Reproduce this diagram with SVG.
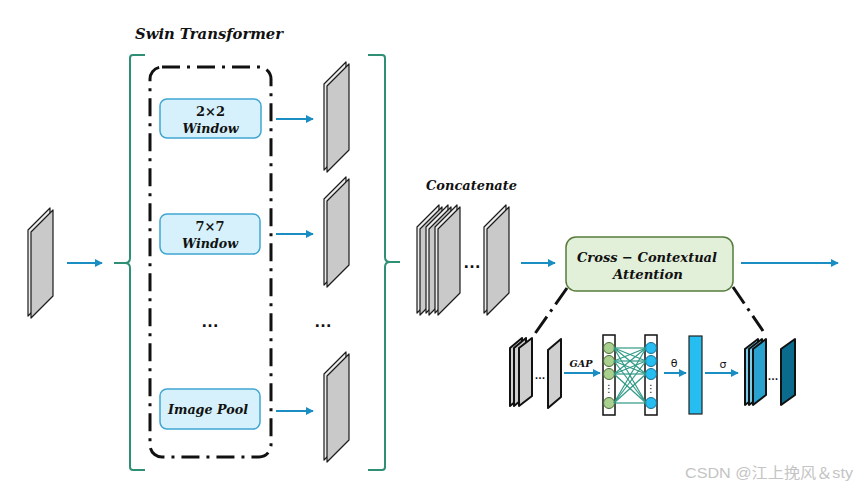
<svg xmlns="http://www.w3.org/2000/svg" width="858" height="487" viewBox="0 0 858 487">
<style>
.lbl{font-family:"DejaVu Serif","Liberation Serif",serif;font-weight:bold;font-style:italic;fill:#111;}
.num{font-family:"DejaVu Serif","Liberation Serif",serif;font-weight:bold;fill:#111;}
.win{fill:#d6f1fb;stroke:#3fa6d2;stroke-width:1.5;}
.arr{stroke:#1a8dc2;stroke-width:2;fill:none;marker-end:url(#ah);}
.brace{fill:none;stroke:#2e8f74;stroke-width:2;}
.back{fill:#ececec;stroke:#1a1a1a;stroke-width:1.2;stroke-linejoin:round;}
.front{fill:#c9c9c9;stroke:#1a1a1a;stroke-width:1.2;stroke-linejoin:round;}
.dots{font-family:"Liberation Sans",sans-serif;font-weight:bold;font-size:18px;fill:#111;}
.sdots{font-family:"Liberation Sans",sans-serif;font-weight:bold;font-size:11px;fill:#111;}
.nn{stroke:#2f9a86;stroke-width:1.2;}
.sl{stroke:#111;stroke-width:2;stroke-linejoin:round;}
.dd{fill:none;stroke:#111;stroke-width:3;stroke-dasharray:18 7 3 7;}
</style>
<defs>
<marker id="ah" viewBox="0 0 10 10" refX="9" refY="5" markerWidth="4" markerHeight="4" orient="auto" markerUnits="strokeWidth">
<path d="M0,0 L10,5 L0,10 z" fill="#1a8dc2"/>
</marker>
<g id="slab">
<polygon class="back" points="-3,-2 19,-24 19,62 -3,84"/>
<polygon class="front" points="0,0 22,-22 22,64 0,86"/>
</g>
</defs>

<!-- title -->
<text class="lbl" x="135" y="39" font-size="15" textLength="148" lengthAdjust="spacingAndGlyphs">Swin Transformer</text>

<!-- input map -->
<g id="input-map"><use href="#slab" x="31" y="232"/></g>

<!-- braces -->
<g id="braces">
<path class="brace" d="M145,55 L133,55 Q130,55 130,58 L130,258 Q130,263 125,263 L114,263 L125,263 Q130,263 130,268 L130,467 Q130,470 133,470 L145,470"/>
<path class="brace" d="M368,55 L382,55 Q385,55 385,58 L385,257 Q385,262 390,262 L400,262 L390,262 Q385,262 385,267 L385,467 Q385,470 382,470 L368,470"/>
</g>

<!-- dash-dot container -->
<g id="swin-box">
<rect class="dd" x="150" y="67" width="121" height="390" rx="12"/>
</g>

<!-- windows -->
<g id="win2">
<rect class="win" x="160" y="99" width="101" height="39" rx="7"/>
<text class="num" x="210.5" y="116" font-size="13" text-anchor="middle">2×2</text>
<text class="lbl" x="210.5" y="133" font-size="13" text-anchor="middle" textLength="56" lengthAdjust="spacingAndGlyphs">Window</text>
</g>
<g id="win7">
<rect class="win" x="160" y="214" width="100" height="40" rx="7"/>
<text class="num" x="210" y="231" font-size="13" text-anchor="middle">7×7</text>
<text class="lbl" x="210" y="248" font-size="13" text-anchor="middle" textLength="56" lengthAdjust="spacingAndGlyphs">Window</text>
</g>
<g id="imgpool">
<rect class="win" x="160" y="389" width="100" height="40" rx="7"/>
<text class="lbl" x="208" y="414" font-size="13" text-anchor="middle" textLength="80" lengthAdjust="spacingAndGlyphs">Image Pool</text>
</g>
<text class="dots" x="210" y="327" text-anchor="middle">…</text>
<text class="dots" x="323" y="327" text-anchor="middle">…</text>

<!-- branch maps -->
<g id="map1"><use href="#slab" x="327" y="86"/></g>
<g id="map2"><use href="#slab" x="327" y="201"/></g>
<g id="map3"><use href="#slab" x="327" y="376"/></g>

<!-- concatenate -->
<text class="lbl" x="426" y="190" font-size="13" textLength="91" lengthAdjust="spacingAndGlyphs">Concatenate</text>
<g id="concat">
<use href="#slab" x="420" y="229"/>
<use href="#slab" x="429" y="229"/>
<use href="#slab" x="438" y="229"/>
<text class="dots" x="472" y="268" text-anchor="middle">…</text>
<use href="#slab" x="487" y="229"/>
</g>

<!-- cross contextual attention -->
<g id="cca">
<rect x="566" y="237" width="167" height="54" rx="10" fill="#e2efd9" stroke="#567d3c" stroke-width="1.5"/>
<text class="lbl" x="647" y="262" font-size="13" text-anchor="middle" textLength="140" lengthAdjust="spacingAndGlyphs">Cross − Contextual</text>
<text class="lbl" x="648" y="279" font-size="13" text-anchor="middle" textLength="70" lengthAdjust="spacingAndGlyphs">Attention</text>
</g>

<!-- detail -->
<g id="detail-in">
<polygon class="sl" fill="#cfcfcf" points="510,348 522,338 522,396 510,406"/>
<polygon class="sl" fill="#cfcfcf" points="514,348 526,338 526,396 514,406"/>
<polygon class="sl" fill="#cfcfcf" points="519,348 532,338 532,396 519,406"/>
<text class="sdots" x="540" y="379" text-anchor="middle">…</text>
<polygon class="sl" fill="#cfcfcf" points="548,350 561,339 561,397 548,408"/>
</g>
<text class="lbl" x="581" y="367" font-size="10" text-anchor="middle" textLength="23" lengthAdjust="spacingAndGlyphs">GAP</text>

<g id="fc1">
<rect x="603" y="335" width="12" height="80" fill="#fff" stroke="#111" stroke-width="1.5"/>
<circle cx="609" cy="348" r="5.5" fill="#a9d08e" stroke="#4a6b35" stroke-width="1"/>
<circle cx="609" cy="361" r="5.5" fill="#a9d08e" stroke="#4a6b35" stroke-width="1"/>
<circle cx="609" cy="374" r="5.5" fill="#a9d08e" stroke="#4a6b35" stroke-width="1"/>
<circle cx="609" cy="403" r="5.5" fill="#a9d08e" stroke="#4a6b35" stroke-width="1"/>
<text x="609" y="392" font-family="DejaVu Sans,sans-serif" font-size="10" text-anchor="middle" fill="#111">⋮</text>
</g>
<g id="fc2">
<rect x="645" y="335" width="12" height="80" fill="#fff" stroke="#111" stroke-width="1.5"/>
<circle cx="651" cy="348" r="5.5" fill="#26bdf0" stroke="#1a6f93" stroke-width="1"/>
<circle cx="651" cy="361" r="5.5" fill="#26bdf0" stroke="#1a6f93" stroke-width="1"/>
<circle cx="651" cy="374" r="5.5" fill="#26bdf0" stroke="#1a6f93" stroke-width="1"/>
<circle cx="651" cy="403" r="5.5" fill="#26bdf0" stroke="#1a6f93" stroke-width="1"/>
<text x="651" y="392" font-family="DejaVu Sans,sans-serif" font-size="10" text-anchor="middle" fill="#111">⋮</text>
</g>
<text x="674" y="367" font-family="DejaVu Sans,sans-serif" font-size="11" text-anchor="middle" fill="#111">θ</text>
<g id="bar"><rect x="689" y="336" width="13" height="78" fill="#26bdf0" stroke="#222" stroke-width="1.2"/></g>
<text x="723" y="368" font-family="DejaVu Sans,sans-serif" font-size="11" text-anchor="middle" fill="#111">σ</text>

<g id="detail-out">
<polygon class="sl" fill="#7ccdec" points="745,349 758,339 758,395 745,405"/>
<polygon class="sl" fill="#7ccdec" points="749,349 762,339 762,395 749,405"/>
<polygon class="sl" fill="#2aa2d0" points="753,349 766,339 766,395 753,405"/>
<text class="sdots" x="773" y="380" text-anchor="middle">…</text>
<polygon class="sl" fill="#0b6b8d" points="781,349 795,339 795,395 781,405"/>
</g>

<!-- connectors -->
<g id="connectors">
<line class="arr" x1="67" y1="263" x2="102" y2="263"/>
<line class="arr" x1="276" y1="119" x2="313" y2="119"/>
<line class="arr" x1="276" y1="234" x2="313" y2="234"/>
<line class="arr" x1="276" y1="411" x2="313" y2="411"/>
<line class="arr" x1="521" y1="263" x2="555" y2="263"/>
<line class="arr" x1="741" y1="263" x2="838" y2="263"/>
<line class="arr" x1="564" y1="373" x2="600" y2="373"/>
<line class="arr" x1="664" y1="373" x2="686" y2="373"/>
<line class="arr" x1="705" y1="373" x2="738" y2="373"/>
<line x1="567" y1="288" x2="534" y2="335" stroke="#111" stroke-width="3" stroke-dasharray="20 6 3 6"/>
<line x1="733" y1="287" x2="763" y2="331" stroke="#111" stroke-width="3" stroke-dasharray="20 6 3 6"/>
<g class="nn">
<line x1="614" y1="348" x2="646" y2="348"/><line x1="614" y1="348" x2="646" y2="361"/><line x1="614" y1="348" x2="646" y2="374"/><line x1="614" y1="348" x2="646" y2="403"/>
<line x1="614" y1="361" x2="646" y2="348"/><line x1="614" y1="361" x2="646" y2="361"/><line x1="614" y1="361" x2="646" y2="374"/><line x1="614" y1="361" x2="646" y2="403"/>
<line x1="614" y1="374" x2="646" y2="348"/><line x1="614" y1="374" x2="646" y2="361"/><line x1="614" y1="374" x2="646" y2="374"/><line x1="614" y1="374" x2="646" y2="403"/>
<line x1="614" y1="403" x2="646" y2="348"/><line x1="614" y1="403" x2="646" y2="361"/><line x1="614" y1="403" x2="646" y2="374"/><line x1="614" y1="403" x2="646" y2="403"/>
</g>
</g>

<text x="685" y="478" font-family="Liberation Sans,'Noto Sans CJK SC',sans-serif" font-size="15" fill="#c4c4c4" textLength="168" lengthAdjust="spacingAndGlyphs">CSDN @江上挽风＆sty</text>
</svg>
